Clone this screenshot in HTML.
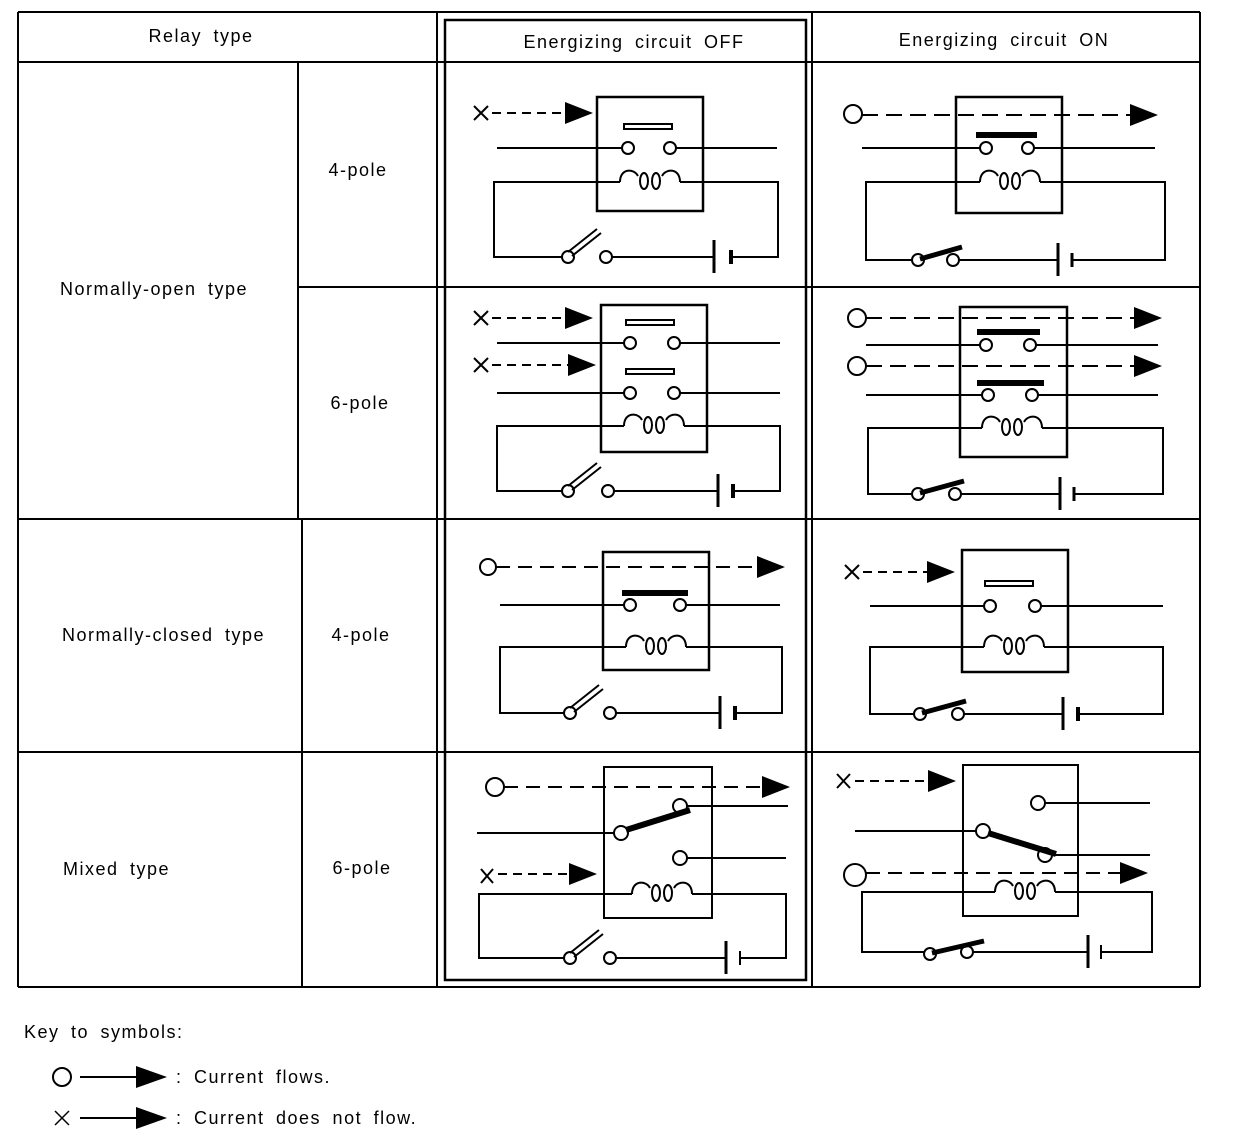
<!DOCTYPE html>
<html><head><meta charset="utf-8"><style>
html,body{margin:0;padding:0;background:#fff;}
svg{display:block;}
text{font-family:"Liberation Sans",sans-serif;font-size:18px;fill:#000;letter-spacing:1.5px;word-spacing:5px;}
</style></head><body>
<svg width="1248" height="1146" viewBox="0 0 1248 1146" xmlns="http://www.w3.org/2000/svg">
<defs>
<path id="coil" d="M0 0 C0 -14 14 -14 18 -6 M42 -6 C46 -14 60 -14 60 0" fill="none" stroke="#000" stroke-width="2"/>
<g id="loops" fill="none" stroke="#000" stroke-width="2"><ellipse cx="24" cy="-1" rx="4" ry="8"/><ellipse cx="36" cy="-1" rx="4" ry="8"/></g>
</defs>
<g fill="none" stroke="#000" stroke-width="2">
<line x1="18" y1="12" x2="1200" y2="12"/>
<line x1="18" y1="62" x2="1200" y2="62"/>
<line x1="18" y1="12" x2="18" y2="987"/>
<line x1="1200" y1="12" x2="1200" y2="987"/>
<line x1="437" y1="12" x2="437" y2="987"/>
<line x1="812" y1="12" x2="812" y2="987"/>
<rect x="445" y="20" width="361" height="960" stroke-width="2.5"/>
<line x1="298" y1="287" x2="1200" y2="287"/>
<line x1="18" y1="519" x2="1200" y2="519"/>
<line x1="18" y1="752" x2="1200" y2="752"/>
<line x1="18" y1="987" x2="1200" y2="987"/>
<line x1="298" y1="62" x2="298" y2="519"/>
<line x1="302" y1="519" x2="302" y2="987"/>
</g>
<g font-size="18">
<text x="201" y="42" text-anchor="middle">Relay type</text>
<text x="634" y="48" text-anchor="middle">Energizing circuit OFF</text>
<text x="1004" y="46" text-anchor="middle">Energizing circuit ON</text>
<text x="358" y="176" text-anchor="middle">4-pole</text>
<text x="60" y="295">Normally-open type</text>
<text x="360" y="409" text-anchor="middle">6-pole</text>
<text x="62" y="641">Normally-closed type</text>
<text x="361" y="641" text-anchor="middle">4-pole</text>
<text x="63" y="875">Mixed type</text>
<text x="362" y="874" text-anchor="middle">6-pole</text>
<text x="24" y="1038">Key to symbols:</text>
<text x="176" y="1083">: Current flows.</text>
<text x="176" y="1124">: Current does not flow.</text>
</g>

<g fill="none" stroke="#000" stroke-width="2">
<rect x="597" y="97" width="106" height="114" stroke-width="2.5"/>
<path d="M474 106 L488 120 M488 106 L474 120"/>
<line x1="492" y1="113" x2="566" y2="113" stroke-dasharray="9 6"/>
<rect x="624" y="124" width="48" height="5"/>
<line x1="497" y1="148" x2="622" y2="148"/><circle cx="628" cy="148" r="6"/><circle cx="670" cy="148" r="6"/><line x1="676" y1="148" x2="777" y2="148"/>
<path d="M620 182 H494 V257 H562 M612 257 H714 M731 257 H778 V182 H680"/>
<use href="#coil" x="620" y="182"/><use href="#loops" x="620" y="182"/>
<circle cx="568" cy="257" r="6"/><circle cx="606" cy="257" r="6"/>
<path d="M568 252 L597 229 M572 256 L601 233"/>
<line x1="714" y1="240" x2="714" y2="273" stroke-width="3"/><line x1="731" y1="250" x2="731" y2="264" stroke-width="4"/>

<rect x="956" y="97" width="106" height="116" stroke-width="2.5"/>
<circle cx="853" cy="114" r="9"/>
<line x1="862" y1="115" x2="1130" y2="115" stroke-dasharray="16 8"/>
<line x1="976" y1="135" x2="1037" y2="135" stroke-width="6"/>
<line x1="862" y1="148" x2="980" y2="148"/><circle cx="986" cy="148" r="6"/><circle cx="1028" cy="148" r="6"/><line x1="1034" y1="148" x2="1155" y2="148"/>
<path d="M980 182 H866 V260 H912 M959 260 H1058 M1072 260 H1165 V182 H1040"/>
<use href="#coil" x="980" y="182"/><use href="#loops" x="980" y="182"/>
<circle cx="918" cy="260" r="6"/><circle cx="953" cy="260" r="6"/>
<line x1="920" y1="259" x2="962" y2="247" stroke-width="5"/>
<line x1="1058" y1="243" x2="1058" y2="276" stroke-width="3"/><line x1="1072" y1="253" x2="1072" y2="267" stroke-width="3"/>

<rect x="601" y="305" width="106" height="147" stroke-width="2.5"/>
<path d="M474 311 L488 325 M488 311 L474 325"/>
<line x1="492" y1="318" x2="566" y2="318" stroke-dasharray="9 6"/>
<path d="M474 358 L488 372 M488 358 L474 372"/>
<line x1="492" y1="365" x2="568" y2="365" stroke-dasharray="9 6"/>
<rect x="626" y="320" width="48" height="5"/>
<line x1="497" y1="343" x2="624" y2="343"/><circle cx="630" cy="343" r="6"/><circle cx="674" cy="343" r="6"/><line x1="680" y1="343" x2="780" y2="343"/>
<rect x="626" y="369" width="48" height="5"/>
<line x1="497" y1="393" x2="624" y2="393"/><circle cx="630" cy="393" r="6"/><circle cx="674" cy="393" r="6"/><line x1="680" y1="393" x2="780" y2="393"/>
<path d="M624 426 H497 V491 H562 M614 491 H718 M733 491 H780 V426 H684"/>
<use href="#coil" x="624" y="426"/><use href="#loops" x="624" y="426"/>
<circle cx="568" cy="491" r="6"/><circle cx="608" cy="491" r="6"/>
<path d="M568 486 L597 463 M572 490 L601 467"/>
<line x1="718" y1="474" x2="718" y2="507" stroke-width="3"/><line x1="733" y1="484" x2="733" y2="498" stroke-width="4"/>

<rect x="960" y="307" width="107" height="150" stroke-width="2.5"/>
<circle cx="857" cy="318" r="9"/>
<line x1="866" y1="318" x2="1134" y2="318" stroke-dasharray="16 8"/>
<circle cx="857" cy="366" r="9"/>
<line x1="866" y1="366" x2="1134" y2="366" stroke-dasharray="16 8"/>
<line x1="977" y1="332" x2="1040" y2="332" stroke-width="6"/>
<line x1="866" y1="345" x2="980" y2="345"/><circle cx="986" cy="345" r="6"/><circle cx="1030" cy="345" r="6"/><line x1="1036" y1="345" x2="1158" y2="345"/>
<line x1="977" y1="383" x2="1044" y2="383" stroke-width="6"/>
<line x1="866" y1="395" x2="982" y2="395"/><circle cx="988" cy="395" r="6"/><circle cx="1032" cy="395" r="6"/><line x1="1038" y1="395" x2="1158" y2="395"/>
<path d="M982 428 H868 V494 H912 M961 494 H1060 M1074 494 H1163 V428 H1042"/>
<use href="#coil" x="982" y="428"/><use href="#loops" x="982" y="428"/>
<circle cx="918" cy="494" r="6"/><circle cx="955" cy="494" r="6"/>
<line x1="920" y1="493" x2="964" y2="481" stroke-width="5"/>
<line x1="1060" y1="477" x2="1060" y2="510" stroke-width="3"/><line x1="1074" y1="487" x2="1074" y2="501" stroke-width="3"/>

<rect x="603" y="552" width="106" height="118" stroke-width="2.5"/>
<circle cx="488" cy="567" r="8"/>
<line x1="496" y1="567" x2="757" y2="567" stroke-dasharray="14 8"/>
<line x1="622" y1="593" x2="688" y2="593" stroke-width="6"/>
<line x1="500" y1="605" x2="624" y2="605"/><circle cx="630" cy="605" r="6"/><circle cx="680" cy="605" r="6"/><line x1="686" y1="605" x2="780" y2="605"/>
<path d="M626 647 H500 V713 H564 M616 713 H720 M735 713 H782 V647 H686"/>
<use href="#coil" x="626" y="647"/><use href="#loops" x="626" y="647"/>
<circle cx="570" cy="713" r="6"/><circle cx="610" cy="713" r="6"/>
<path d="M570 708 L599 685 M574 712 L603 689"/>
<line x1="720" y1="696" x2="720" y2="729" stroke-width="3"/><line x1="735" y1="706" x2="735" y2="720" stroke-width="4"/>

<rect x="962" y="550" width="106" height="122" stroke-width="2.5"/>
<path d="M845 565 L859 579 M859 565 L845 579"/>
<line x1="863" y1="572" x2="927" y2="572" stroke-dasharray="9 6"/>
<rect x="985" y="581" width="48" height="5"/>
<line x1="870" y1="606" x2="984" y2="606"/><circle cx="990" cy="606" r="6"/><circle cx="1035" cy="606" r="6"/><line x1="1041" y1="606" x2="1163" y2="606"/>
<path d="M984 647 H870 V714 H914 M964 714 H1063 M1078 714 H1163 V647 H1044"/>
<use href="#coil" x="984" y="647"/><use href="#loops" x="984" y="647"/>
<circle cx="920" cy="714" r="6"/><circle cx="958" cy="714" r="6"/>
<line x1="922" y1="713" x2="966" y2="701" stroke-width="5"/>
<line x1="1063" y1="697" x2="1063" y2="730" stroke-width="3"/><line x1="1078" y1="707" x2="1078" y2="721" stroke-width="4"/>

<rect x="604" y="767" width="108" height="151" stroke-width="2"/>
<circle cx="495" cy="787" r="9"/>
<line x1="504" y1="787" x2="762" y2="787" stroke-dasharray="14 8"/>
<circle cx="680" cy="806" r="7"/><line x1="687" y1="806" x2="788" y2="806"/>
<line x1="477" y1="833" x2="615" y2="833"/><circle cx="621" cy="833" r="7"/>
<line x1="626" y1="830" x2="690" y2="810" stroke-width="6"/>
<circle cx="680" cy="858" r="7"/><line x1="687" y1="858" x2="786" y2="858"/>
<path d="M481 869 L493 883 M493 869 L481 883"/>
<line x1="498" y1="874" x2="570" y2="874" stroke-dasharray="9 6"/>
<path d="M632 894 H479 V958 H564 M615 958 H726 M740 958 H786 V894 H692"/>
<use href="#coil" x="632" y="894"/><use href="#loops" x="632" y="894"/>
<circle cx="570" cy="958" r="6"/><circle cx="610" cy="958" r="6"/>
<path d="M570 953 L599 930 M574 957 L603 934"/>
<line x1="726" y1="941" x2="726" y2="974" stroke-width="3"/><line x1="740" y1="951" x2="740" y2="965" stroke-width="2"/>

<rect x="963" y="765" width="115" height="151" stroke-width="2"/>
<path d="M837 774 L850 788 M850 774 L837 788"/>
<line x1="855" y1="781" x2="928" y2="781" stroke-dasharray="9 6"/>
<circle cx="1038" cy="803" r="7"/><line x1="1045" y1="803" x2="1150" y2="803"/>
<line x1="855" y1="831" x2="977" y2="831"/><circle cx="983" cy="831" r="7"/>
<line x1="988" y1="833" x2="1056" y2="854" stroke-width="6"/>
<circle cx="1045" cy="855" r="7"/><line x1="1052" y1="855" x2="1150" y2="855"/>
<circle cx="855" cy="875" r="11"/>
<line x1="866" y1="873" x2="1120" y2="873" stroke-dasharray="14 8"/>
<path d="M995 892 H862 V952 H924 M973 952 H1088 M1101 952 H1152 V892 H1055"/>
<use href="#coil" x="995" y="892"/><use href="#loops" x="995" y="892"/>
<circle cx="930" cy="954" r="6"/><circle cx="967" cy="952" r="6"/>
<line x1="932" y1="953" x2="984" y2="941" stroke-width="5"/>
<line x1="1088" y1="935" x2="1088" y2="968" stroke-width="3"/><line x1="1101" y1="945" x2="1101" y2="959" stroke-width="2"/>

<circle cx="62" cy="1077" r="9"/><line x1="80" y1="1077" x2="140" y2="1077"/>
<path d="M55 1111 L69 1125 M69 1111 L55 1125" stroke-width="1.5"/><line x1="80" y1="1118" x2="140" y2="1118"/>
</g>
<g fill="#000">
<polygon points="593,113 565,102 565,124"/>
<polygon points="1158,115 1130,104 1130,126"/>
<polygon points="593,318 565,307 565,329"/>
<polygon points="596,365 568,354 568,376"/>
<polygon points="1162,318 1134,307 1134,329"/>
<polygon points="1162,366 1134,355 1134,377"/>
<polygon points="785,567 757,556 757,578"/>
<polygon points="955,572 927,561 927,583"/>
<polygon points="790,787 762,776 762,798"/>
<polygon points="597,874 569,863 569,885"/>
<polygon points="956,781 928,770 928,792"/>
<polygon points="1148,873 1120,862 1120,884"/>
<polygon points="167,1077 136,1066 136,1088"/>
<polygon points="167,1118 136,1107 136,1129"/>
</g>
</svg>
</body></html>
